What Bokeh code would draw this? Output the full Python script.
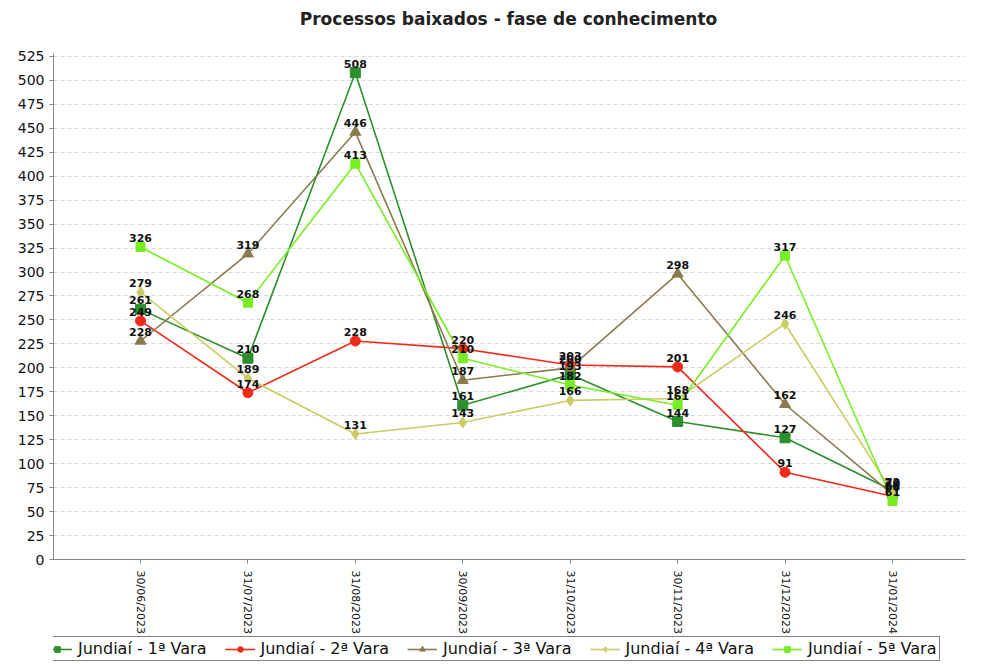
from bokeh.plotting import figure
from bokeh.models import (ColumnDataSource, FixedTicker, Legend, LegendItem,
                          LabelSet, Label, Range1d)
from bokeh.layouts import column
from bokeh.core.properties import value
from bokeh.embed import file_html
from bokeh.resources import INLINE

title = "Processos baixados - fase de conhecimento"
dates = ["30/06/2023", "31/07/2023", "31/08/2023", "30/09/2023",
         "31/10/2023", "30/11/2023", "31/12/2023", "31/01/2024"]
names = ["Jundiaí - 1ª Vara", "Jundiaí - 2ª Vara", "Jundiaí - 3ª Vara",
         "Jundiaí - 4ª Vara", "Jundiaí - 5ª Vara"]
vara1 = [261, 210, 508, 161, 193, 144, 127, 72]
vara2 = [249, 174, 228, 220, 203, 201, 91, 66]
vara3 = [228, 319, 446, 187, 200, 298, 162, 68]
vara4 = [279, 189, 131, 143, 166, 168, 246, 70]
vara5 = [326, 268, 413, 210, 182, 161, 317, 61]
y_ticks = list(range(0, 526, 25))

series = [vara1, vara2, vara3, vara4, vara5]
colors = ["#2b8f2b", "#f02a1a", "#8a7a4c", "#c9cc62", "#77ee22"]
markers = ["square", "circle", "triangle", "diamond", "square"]
msizes = [10, 10, 11, 11, 9]


def strip(h):
    f = figure(width=967, height=h, output_backend="svg",
               toolbar_location=None, x_range=Range1d(0, 1),
               y_range=Range1d(0, 1), min_border_left=53, min_border_right=2,
               min_border_top=0, min_border_bottom=0,
               outline_line_color=None)
    f.axis.visible = False
    f.grid.visible = False
    return f


# title strip
pt = strip(30)
pt.add_layout(Label(x=455, y=12, x_units="screen", y_units="screen",
                    text=title, text_align="center", text_baseline="middle",
                    text_font="DejaVu Sans", text_font_size="17px",
                    text_font_style="bold", text_color="#222222"))

p = figure(width=967, height=606, output_backend="svg",
           toolbar_location=None,
           x_range=Range1d(-0.81, 7.68), y_range=Range1d(0, 528),
           min_border_left=53, min_border_right=2, min_border_top=23,
           min_border_bottom=0,
           background_fill_color="white", border_fill_color="white",
           outline_line_color=None)

p.xaxis.ticker = FixedTicker(ticks=list(range(len(dates))))
p.xaxis.major_label_overrides = {i: d for i, d in enumerate(dates)}
p.xaxis.major_label_orientation = -1.5708
p.yaxis.ticker = FixedTicker(ticks=y_ticks)
for ax in (p.xaxis, p.yaxis):
    ax.axis_line_color = "#888888"
    ax.major_tick_line_color = "#888888"
    ax.minor_tick_line_color = None
    ax.major_tick_out = 4
    ax.major_tick_in = 0
    ax.major_label_text_font = "DejaVu Sans"
    ax.major_label_text_color = "#111111"
p.yaxis.major_label_text_font_size = "14px"
p.xaxis.major_label_text_font_size = "11px"
p.xaxis.major_label_standoff = 7
p.xgrid.grid_line_color = None
p.ygrid.grid_line_color = "#d8d8d8"
p.ygrid.grid_line_dash = "4 3"

# legend strip (reuses the series sources; their points lie outside its ranges)
pl = strip(28)

items = []
x = list(range(len(dates)))
for vals, name, c, m, s in zip(series, names, colors, markers, msizes):
    src = ColumnDataSource(dict(x=x, y=vals, t=[str(v) for v in vals]))
    p.line("x", "y", source=src, line_color=c, line_width=1.6)
    p.scatter("x", "y", source=src, marker=m, size=s, fill_color=c,
              line_color=c)
    lab = LabelSet(x="x", y="y", text="t", source=src, y_offset=5,
                   text_align="center", text_baseline="bottom",
                   text_font=value("DejaVu Sans"), text_font_size="11px",
                   text_font_style="bold", text_color="#111111")
    p.add_layout(lab)
    ln = pl.line("x", "y", source=src, line_color=c, line_width=1.6)
    sc = pl.scatter("x", "y", source=src, marker=m, size=s - 1,
                    fill_color=c, line_color=c)
    items.append(LegendItem(label=name, renderers=[ln, sc]))

legend = Legend(items=items, orientation="horizontal",
                label_text_font="DejaVu Sans", label_text_font_size="16px",
                label_text_color="#111111", border_line_color="black",
                border_line_width=1, glyph_width=30, glyph_height=14,
                label_standoff=6, spacing=18, padding=2, margin=0,
                location=(-14, 3), label_height=16,
                background_fill_color="white")
pl.add_layout(legend)

layout = column(pt, p, pl, spacing=0)
open("out.html", "w").write(file_html(layout, INLINE))
